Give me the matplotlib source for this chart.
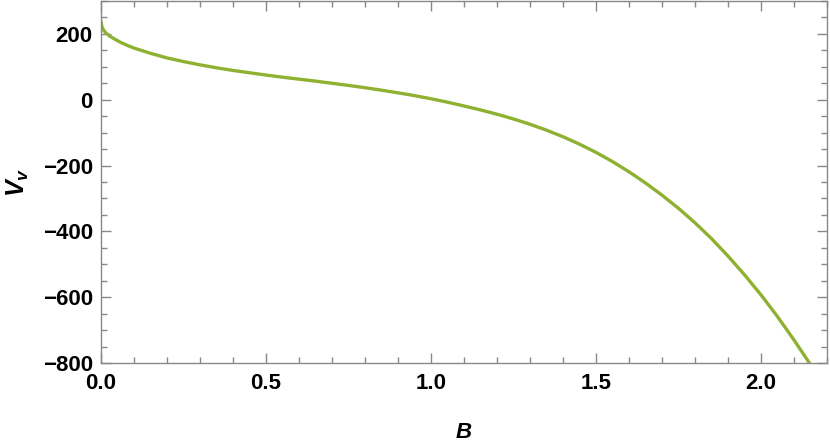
import matplotlib.pyplot as plt
from matplotlib.ticker import MultipleLocator

# values
B = [0.0, 0.003, 0.008, 0.015, 0.027, 0.04, 0.06, 0.08, 0.1, 0.15, 0.2, 0.25,
     0.3, 0.35, 0.4, 0.45, 0.5, 0.55, 0.6, 0.65, 0.7, 0.75, 0.8, 0.85, 0.9,
     0.95, 1.0, 1.05, 1.1, 1.15, 1.2, 1.25, 1.3, 1.35, 1.4, 1.45, 1.5, 1.55,
     1.6, 1.65, 1.7, 1.75, 1.8, 1.85, 1.9, 1.95, 2.0, 2.05, 2.1, 2.15]
Vv = [239, 221, 211, 202.6, 193, 185, 174, 165, 157, 141, 127, 116,
      106, 97, 89, 82, 75, 68.5, 62.5, 56.5, 50, 43.5, 36.5, 29, 21,
      12.5, 3, -7.5, -19, -31, -44, -58.5, -74.5, -92.5, -112.5, -135, -160, -188,
      -219, -253, -290, -330, -374, -422, -475, -532, -593, -659, -730, -805]

plt.rcParams['font.family'] = 'Liberation Sans'
plt.rcParams['font.weight'] = 'bold'
plt.rcParams['mathtext.fontset'] = 'custom'
plt.rcParams['mathtext.it'] = 'Liberation Sans:italic:bold'
plt.rcParams['mathtext.rm'] = 'Liberation Sans:bold'

fig = plt.figure(figsize=(8.3, 4.45), dpi=100)
ax = fig.add_axes([101/830, 82/445, 726/830, 362/445])

ax.plot(B, Vv, color='#8fb131', lw=2.4, solid_capstyle='butt')

ax.set_xlim(0, 2.2)
ax.set_ylim(-800, 300)
ax.xaxis.set_major_locator(MultipleLocator(0.5))
ax.xaxis.set_minor_locator(MultipleLocator(0.1))
ax.yaxis.set_major_locator(MultipleLocator(200))
ax.yaxis.set_minor_locator(MultipleLocator(50))
ax.xaxis.set_major_formatter(lambda v, p: f'{v:.1f}')

gray = '#888888'
for s in ax.spines.values():
    s.set_color(gray)
    s.set_linewidth(1.0)
ax.tick_params(which='both', direction='in', top=True, right=True,
               color=gray, width=1.0, labelsize=16, labelcolor='black')
ax.tick_params(which='major', length=7.5)
ax.tick_params(which='minor', length=4.3)
ax.tick_params(axis='x', pad=7)
ax.tick_params(axis='y', pad=6)

ax.set_xlabel('B', fontsize=16, fontstyle='italic', fontweight='bold', labelpad=20)
ax.set_ylabel('$V_v$', fontsize=18, labelpad=8)

fig.savefig('out.png', dpi=100)
